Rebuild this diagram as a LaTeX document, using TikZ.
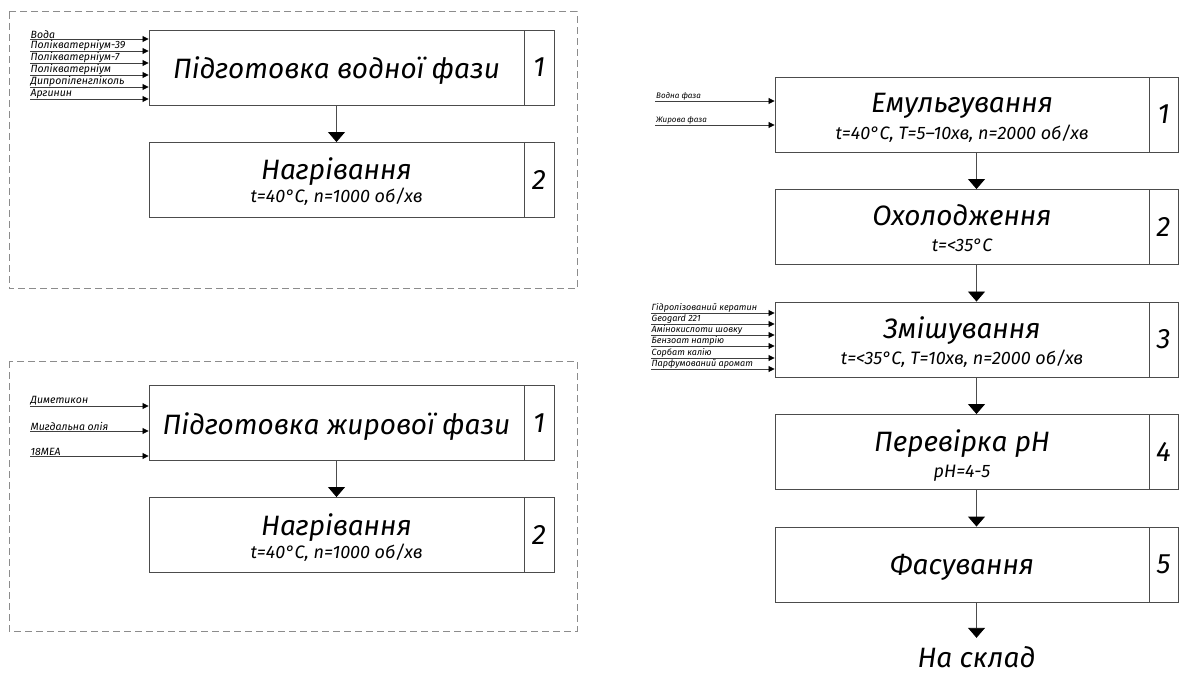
\documentclass[tikz,border=0pt]{standalone}
\usepackage{fontspec}
\setmainfont{Fira Sans}
\usetikzlibrary{arrows.meta,calc}
\begin{document}
\begin{tikzpicture}[x=1pt,y=-1pt,
  box/.style={draw=black!70, line width=0.9pt, minimum height=75pt, inner sep=0pt},
  frame/.style={draw=black!45, line width=1pt, dash pattern=on 7pt off 4pt},
  flow/.style={draw=black!70, line width=0.9pt, -{Triangle[width=17pt,length=10pt,color=black]}},
  inarr/.style={draw=black!75, line width=0.8pt, -{Triangle[width=6pt,length=6pt,color=black]}},
  lbl/.style={font=\fontsize{8}{9}\selectfont\itshape, anchor=south west, inner sep=1pt},
  lblL/.style={lbl, font=\fontsize{10.5}{11}\selectfont\itshape, inner sep=0.5pt},
  lblM/.style={lbl, font=\fontsize{9}{10}\selectfont\itshape, inner sep=0.5pt},
  ttl/.style={font=\fontsize{28}{32}\selectfont\itshape, anchor=base, inner sep=0pt},
  sub/.style={font=\fontsize{18}{20}\selectfont\itshape, anchor=base, inner sep=0pt},
  num/.style={font=\fontsize{28}{32}\selectfont\itshape, inner sep=0pt},
]
\useasboundingbox (0,0) rectangle (1183,676);

% ---------- frames ----------
\draw[frame] (9,12) rectangle (577,289);
\draw[frame] (9,361) rectangle (577,631);

% ---------- top-left group ----------
\node[box, minimum width=375pt] (a1) at (336.5,67.5) {};
\node[box, minimum width=30pt] (a1n) at (539,67.5) {};
\node[num] at (a1n) {1};
\node[ttl] (a1t) at (336.5,79) {Підготовка водної фази};

\node[box, minimum width=375pt] (a2) at (336.5,180) {};
\node[box, minimum width=30pt] (a2n) at (539,180) {};
\node[num] at (a2n) {2};
\node[ttl] (a2t) at (336.5,180) {Нагрівання};
\node[sub] (a2s) at (336.5,203) {t=40°C, n=1000 об/хв};

\draw[flow] (a1.south) -- (a2.north);

\foreach \y/\t/\n in {39/Вода/1, 51/Полікватерніум-39/2, 63/Полікватерніум-7/3, 75/Полікватерніум/4, 87/Дипропіленгліколь/5, 99/Аргинин/6}{
  \node[lblL] (ai\n) at (30,\y) {\t};
  \draw[inarr] (ai\n.south west) -- (ai\n.south west -| a1.west);
}

% ---------- bottom-left group ----------
\node[box, minimum width=375pt] (b1) at (336.5,423) {};
\node[box, minimum width=30pt] (b1n) at (539,423) {};
\node[num] at (b1n) {1};
\node[ttl] (b1t) at (336.5,434) {Підготовка жирової фази};

\node[box, minimum width=375pt] (b2) at (336.5,535) {};
\node[box, minimum width=30pt] (b2n) at (539,535) {};
\node[num] at (b2n) {2};
\node[ttl] (b2t) at (336.5,535) {Нагрівання};
\node[sub] (b2s) at (336.5,558) {t=40°C, n=1000 об/хв};

\draw[flow] (b1.south) -- (b2.north);

\foreach \y/\t/\n in {406/Диметикон/1, 431/Мигдальна олія/2, 456/18МЕА/3}{
  \node[lblL] (bi\n) at (30,\y) {\t};
  \draw[inarr] (bi\n.south west) -- (bi\n.south west -| b1.west);
}

% ---------- right column ----------
\node[box, minimum width=374pt] (c1) at (962,114.5) {};
\node[box, minimum width=29pt] (c1n) at (1163.5,114.5) {};
\node[num] at (c1n) {1};
\node[ttl] (c1t) at (962,113) {Емульгування};
\node[sub] (c1s) at (962,140) {t=40°C, T=5–10хв, n=2000 об/хв};

\node[box, minimum width=374pt] (c2) at (962,227) {};
\node[box, minimum width=29pt] (c2n) at (1163.5,227) {};
\node[num] at (c2n) {2};
\node[ttl] (c2t) at (962,226) {Охолодження};
\node[sub] (c2s) at (962,252) {t=<35°C};

\node[box, minimum width=374pt] (c3) at (962,339.5) {};
\node[box, minimum width=29pt] (c3n) at (1163.5,339.5) {};
\node[num] at (c3n) {3};
\node[ttl] (c3t) at (962,338) {Змішування};
\node[sub] (c3s) at (962,364) {t=<35°C, T=10хв, n=2000 об/хв};

\node[box, minimum width=374pt] (c4) at (962,452) {};
\node[box, minimum width=29pt] (c4n) at (1163.5,452) {};
\node[num] at (c4n) {4};
\node[ttl] (c4t) at (962,451) {Перевірка pH};
\node[sub] (c4s) at (962,477) {pH=4-5};

\node[box, minimum width=374pt] (c5) at (962,564.5) {};
\node[box, minimum width=29pt] (c5n) at (1163.5,564.5) {};
\node[num] at (c5n) {5};
\node[ttl] (c5t) at (962,574) {Фасування};

\node[ttl] (dst) at (976.5,667) {На склад};

\draw[flow] ($(c1.south west)!.5!(c1n.south east)$) -- ($(c2.north west)!.5!(c2n.north east)$);
\draw[flow] ($(c2.south west)!.5!(c2n.south east)$) -- ($(c3.north west)!.5!(c3n.north east)$);
\draw[flow] ($(c3.south west)!.5!(c3n.south east)$) -- ($(c4.north west)!.5!(c4n.north east)$);
\draw[flow] ($(c4.south west)!.5!(c4n.south east)$) -- ($(c5.north west)!.5!(c5n.north east)$);
\draw[flow, shorten >=8pt] ($(c5.south west)!.5!(c5n.south east)$) -- (dst.north);

\foreach \y/\t/\n in {101/Водна фаза/1, 125/Жирова фаза/2}{
  \node[lbl] (ci\n) at (655,\y) {\t};
  \draw[inarr] (ci\n.south west) -- (ci\n.south west -| c1.west);
}
\foreach \y/\t/\n in {313/Гідролізований кератин/1, 324/Geogard 221/2, 335/Амінокислоти шовку/3, 346/Бензоат натрію/4, 358/Сорбат калію/5, 369/Парфумований аромат/6}{
  \node[lblM] (di\n) at (651,\y) {\t};
  \draw[inarr] (di\n.south west) -- (di\n.south west -| c3.west);
}
\end{tikzpicture}
\end{document}
